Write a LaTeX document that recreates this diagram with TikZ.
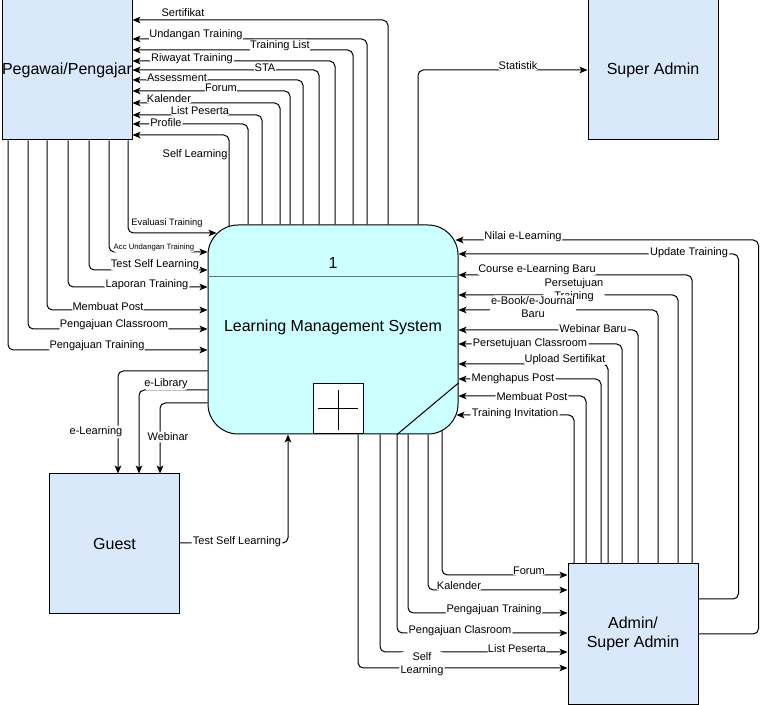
\documentclass[tikz,border=0pt]{standalone}
\usepackage{fontspec}
\setmainfont{Liberation Sans}
\usetikzlibrary{positioning, arrows.meta, calc}
\definecolor{boxblue}{RGB}{218,232,252}
\definecolor{proccyan}{RGB}{204,255,255}
\definecolor{divgray}{RGB}{96,120,128}

\begin{document}
\begin{tikzpicture}[
    x=0.75pt, y=-0.75pt,
    entity/.style={draw=black, line width=0.75pt, fill=boxblue, inner sep=0pt, minimum width=97.5pt, minimum height=105pt, align=center, font=\fontsize{12}{14}\selectfont},
    process/.style={draw=black, line width=0.75pt, fill=proccyan, rounded corners=22.5pt, minimum width=187.5pt, minimum height=156.75pt},
    flow/.style={-{Stealth[length=6pt, width=5pt, inset=1.5pt]}, line width=0.75pt, rounded corners=4pt},
    lbl/.style={fill=white, inner sep=1pt, font=\fontsize{8.25}{9.5}\selectfont, align=center}
]
\useasboundingbox (0,0) rectangle (768,705);

% external entities
\node[entity] (peg) at (67,70) {Pegawai/Pengajar};
\node[entity] (sadmin) at (653,70) {Super Admin};
\node[entity] (guest) at (114.5,544) {Guest};
\node[entity] (admin) at (633,634) {Admin/\\Super Admin};

% process 1
\node[process] (lms) at (333,329.5) {};
\node[font=\fontsize{12}{14}\selectfont] (lmsid) at (333,263) {1};
\node[font=\fontsize{12}{14}\selectfont] (lmsname) at (333,327) {Learning Management System};
\draw[divgray, line width=0.75pt] (lms.west |- 0,277) -- (lms.east |- 0,277);
\node[draw, fill=white, line width=0.75pt, minimum size=37.5pt, inner sep=0pt] (sub) at (338,409) {};
\draw[line width=0.75pt] ($(sub.center)+(-20,0)$) -- ($(sub.center)+(20,0)$);
\draw[line width=0.75pt] ($(sub.center)+(0,-19)$) -- ($(sub.center)+(0,21)$);
\draw[line width=0.75pt] (lms.east |- 0,383) -- (lms.south -| 397,0);

% process -> pegawai
\draw[flow] (lms.north -| 388,0) |- (peg.east |- 0,20) node[lbl] at (183,13) {Sertifikat};
\draw[flow] (lms.north -| 367,0) |- (peg.east |- 0,39) node[lbl] at (196,35) {Undangan Training};
\draw[flow] (lms.north -| 353,0) |- (peg.east |- 0,50) node[lbl] at (280,46) {Training List};
\draw[flow] (lms.north -| 335,0) |- (peg.east |- 0,61) node[lbl] at (192,59) {Riwayat Training};
\draw[flow] (lms.north -| 319,0) |- (peg.east |- 0,70) node[lbl] at (265,68) {STA};
\draw[flow] (lms.north -| 303,0) |- (peg.east |- 0,80) node[lbl] at (177,78) {Assessment};
\draw[flow] (lms.north -| 290,0) |- (peg.east |- 0,91) node[lbl] at (221,88) {Forum};
\draw[flow] (lms.north -| 280,0) |- (peg.east |- 0,103) node[lbl] at (169,99) {Kalender};
\draw[flow] (lms.north -| 262,0) |- (peg.east |- 0,115) node[lbl] at (200,111) {List Peserta};
\draw[flow] (lms.north -| 248,0) |- (peg.east |- 0,124) node[lbl] at (166,123) {Profile};
\draw[flow] ($(lms.north -| 229,0)+(0,1.5)$) |- (peg.east |- 0,135) node[lbl, anchor=east, inner sep=0pt] at (228,155) {Self Learning};

% process -> super admin
\draw[flow] (lms.north -| 418,0) |- (sadmin.west |- 0,70) node[lbl] at (518,66) {Statistik};

% pegawai -> process
\draw[flow] (peg.south -| 128,0) |- ($(lms.west |- 0,233)+(9,0)$) node[lbl, font=\fontsize{7}{8}\selectfont] at (167,223) {Evaluasi Training};
\draw[flow] (peg.south -| 109,0) |- (lms.west |- 0,252) node[lbl, font=\fontsize{5.8}{7}\selectfont] at (154,248) {Acc Undangan Training};
\draw[flow] (peg.south -| 89,0) |- (lms.west |- 0,270) node[lbl] at (155,265) {Test Self Learning};
\draw[flow] (peg.south -| 68,0) |- (lms.west |- 0,287) node[lbl] at (147,285) {Laporan Training};
\draw[flow] (peg.south -| 47,0) |- (lms.west |- 0,310) node[lbl] at (108,307) {Membuat Post};
\draw[flow] (peg.south -| 28,0) |- (lms.west |- 0,329) node[lbl] at (114,325) {Pengajuan Classroom};
\draw[flow] (peg.south -| 8,0) |- (lms.west |- 0,350) node[lbl] at (97,346) {Pengajuan Training};

% process <-> guest
\draw[flow] (lms.west |- 0,371) -| (guest.north -| 118,0) node[lbl] at (96,432) {e-Learning};
\draw[flow] (lms.west |- 0,390) -| (guest.north -| 139,0) node[lbl] at (166,384) {e-Library};
\draw[flow] (lms.west |- 0,403) -| (guest.north -| 160,0) node[lbl] at (168,437) {Webinar};
\draw[flow] (guest.east |- 0,543) -| (lms.south -| 288,0) node[lbl] at (237,542) {Test Self Learning};

% admin -> process
\draw[flow] (admin.east |- 0,634) -- ++(60,0) |- ($(lms.east |- 0,240)+(-3,0)$) node[lbl] at (523,237) {Nilai e-Learning};
\draw[flow] (admin.east |- 0,599) -- ++(40,0) |- (lms.east |- 0,254) node[lbl] at (689,253) {Update Training};
\draw[flow] (admin.north -| 692,0) |- (lms.east |- 0,275) node[lbl] at (537,270) {Course e-Learning Baru};
\draw[flow] (admin.north -| 678,0) |- (lms.east |- 0,295) node[lbl] at (574,290) {Persetujuan\\Training};
\draw[flow] (admin.north -| 658,0) |- (lms.east |- 0,310) node[lbl] at (533,307) {e-Book/e-Journal\\Baru};
\draw[flow] (admin.north -| 638,0) |- (lms.east |- 0,330) node[lbl] at (593,329) {Webinar Baru};
\draw[flow] (admin.north -| 622,0) |- (lms.east |- 0,344) node[lbl] at (530,344) {Persetujuan Classroom};
\draw[flow] (admin.north -| 608,0) |- (lms.east |- 0,364) node[lbl] at (565,360) {Upload Sertifikat};
\draw[flow] (admin.north -| 601,0) |- (lms.east |- 0,379) node[lbl] at (513,379) {Menghapus Post};
\draw[flow] (admin.north -| 586,0) |- (lms.east |- 0,396) node[lbl] at (532,397) {Membuat Post};
\draw[flow] (admin.north -| 574,0) |- ($(lms.east |- 0,415)+(-2,0)$) node[lbl] at (515,414) {Training Invitation};

% process -> admin
\draw[flow] ($(lms.south -| 442,0)+(0,-3.5)$) |- (admin.west |- 0,575) node[lbl] at (529,571) {Forum};
\draw[flow] (lms.south -| 428,0) |- (admin.west |- 0,590) node[lbl] at (459,586) {Kalender};
\draw[flow] (lms.south -| 408,0) |- (admin.west |- 0,613) node[lbl] at (494,610) {Pengajuan Training};
\draw[flow] (lms.south -| 397,0) |- (admin.west |- 0,633) node[lbl] at (460,631) {Pengajuan Clasroom};
\draw[flow] (lms.south -| 380,0) |- (admin.west |- 0,652) node[lbl] at (517,649) {List Peserta};
\draw[flow] (lms.south -| 358,0) |- (admin.west |- 0,668) node[lbl] at (422,664) {Self\\Learning};

\end{tikzpicture}
\end{document}
